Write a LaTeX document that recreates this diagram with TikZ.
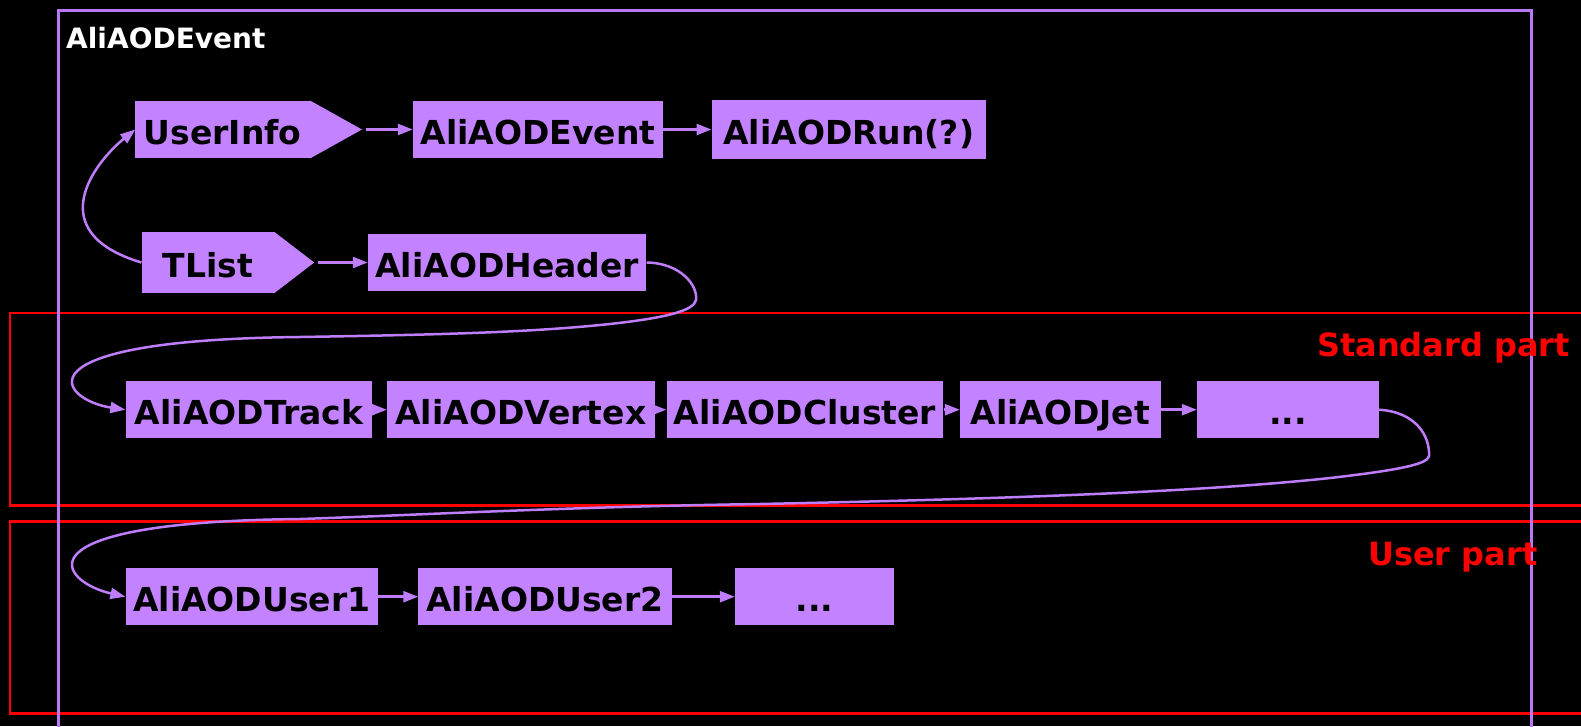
\documentclass[tikz,border=0pt]{standalone}
\usepackage{fontspec}
\setmainfont{DejaVu Sans}
\usetikzlibrary{arrows.meta,calc}
\definecolor{boxfill}{RGB}{195,130,255}
\definecolor{linkc}{RGB}{190,125,250}
\definecolor{framec}{RGB}{185,120,245}
\definecolor{partred}{RGB}{255,0,0}
\begin{document}
\begin{tikzpicture}[x=1pt,y=-1pt,
  cls/.style={fill=boxfill, inner sep=0pt, text height=30pt, text depth=0pt,
    font=\fontsize{33}{38}\selectfont\bfseries, text=black},
  link/.style={draw=linkc, line width=2.5pt, -{Triangle[length=15pt,width=11pt]}},
  part/.style={draw=partred, line width=2.6pt},
  partlabel/.style={text=partred, inner sep=0pt, anchor=base west,
    font=\fontsize{32}{38}\selectfont\bfseries},
]
\fill[black] (0,0) rectangle (1581,726);
\useasboundingbox (0,0) rectangle (1581,726);
\clip (0,0) rectangle (1581,726);

% the two red regions
\draw[part] (10,313) rectangle (1620,505.7);
\draw[part] (10,521.7) rectangle (1620,713.3);

% the event container
\draw[draw=framec, line width=3pt] (58.5,10) rectangle (1531,780);
\node[text=white, inner sep=0pt, anchor=base west,
  font=\fontsize{28}{34}\selectfont\bfseries] (title) at (66,48) {AliAODEvent};

% labels of the regions
\node[partlabel] (stdlab) at (1317,356.7) {Standard part};
\node[partlabel] (usrlab) at (1368,565) {User part};

% first row
\node[cls, minimum width=174.3pt, minimum height=57.6pt] (ui) at (222.6,129.5) {UserInfo};
\fill[boxfill] (ui.north east) -- ($(ui.east)+(52,0)$) coordinate (uitip) -- (ui.south east) -- cycle;
\node[cls, minimum width=250pt, minimum height=57.6pt] (ev) at (538,129.5) {AliAODEvent};
\node[cls, minimum width=274pt, minimum height=58.3pt] (run) at (848.7,129.5) {AliAODRun(?)};

% second row
\node[cls, minimum width=132.4pt, minimum height=61pt] (tl) at (207.8,262.5) {TList};
\fill[boxfill] (tl.north east) -- ($(tl.east)+(40,0)$) coordinate (tltip) -- (tl.south east) -- cycle;
\node[cls, minimum width=278.5pt, minimum height=57.7pt] (hd) at (507.2,262.5) {AliAODHeader};

% standard part
\node[cls, minimum width=246.9pt, minimum height=57.3pt] (tr) at (249,409.7) {AliAODTrack};
\node[cls, minimum width=267.6pt, minimum height=57.3pt] (vx) at (520.8,409.7) {AliAODVertex};
\node[cls, minimum width=276.9pt, minimum height=57.3pt] (cl) at (805,409.7) {AliAODCluster};
\node[cls, minimum width=200.6pt, minimum height=57.3pt] (jt) at (1060.3,409.7) {AliAODJet};
\node[cls, minimum width=182pt, minimum height=57.3pt] (d1) at (1288,409.7) {...};

% user part
\node[cls, minimum width=252.4pt, minimum height=56.7pt] (u1) at (251.8,596.7) {AliAODUser1};
\node[cls, minimum width=253.1pt, minimum height=56.7pt] (u2) at (545,596.7) {AliAODUser2};
\node[cls, minimum width=159.4pt, minimum height=56.7pt] (d2) at (814.7,596.7) {...};

% straight links
\draw[link] ($(uitip)+(4,0)$) -- (ev.west);
\draw[link] (ev.east) -- (run.west);
\draw[link] ($(tltip)+(4,0)$) -- (hd.west);
\draw[link] (tr.east) -- (vx.west);
\draw[link] (vx.east) -- (cl.west);
\draw[link] (cl.east) -- (jt.west);
\draw[link] (jt.east) -- (d1.west);
\draw[link] (u1.east) -- (u2.west);
\draw[link] (u2.east) -- (d2.west);

% curved links
\draw[link] (tl.west) .. controls (40,232) and (95,162) .. (ui.west);
\draw[link] (hd.east) .. controls (680,263) and (698,285) .. (696,300)
  .. controls (694,310) and (670,318) .. (600,325)
  .. controls (520,333) and (420,335) .. (300,337)
  .. controls (10,340) and (60,400) .. (tr.west);
\draw[link] (d1.east) .. controls (1415,412) and (1430,435) .. (1429,456)
  .. controls (1428,464) and (1400,470) .. (1330,478)
  .. controls (1200,492) and (1000,499) .. (760,504)
  .. controls (560,507) and (420,515) .. (300,519)
  .. controls (10,522) and (60,582) .. (u1.west);
\end{tikzpicture}
\end{document}
